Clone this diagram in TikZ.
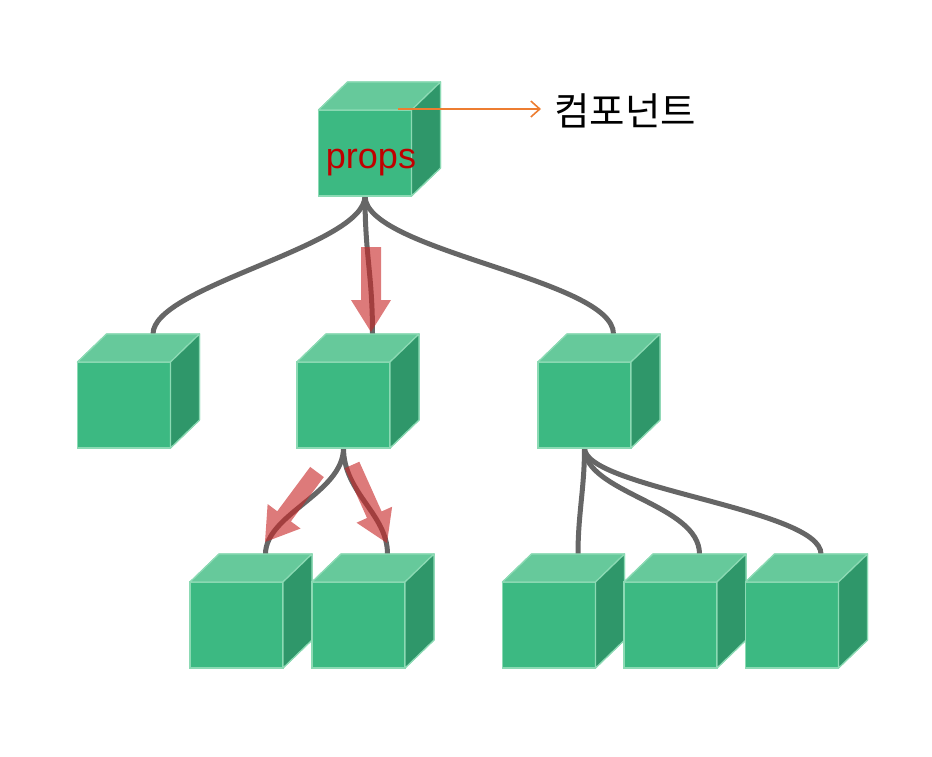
\documentclass[tikz,border=0pt]{standalone}
\usepackage{fontspec}
\setmainfont{Liberation Sans}
\newfontfamily\krfont{Noto Sans CJK KR}
\usetikzlibrary{calc,arrows.meta}
\definecolor{cfront}{RGB}{60,185,130}
\definecolor{ctop}{RGB}{102,201,155}
\definecolor{cside}{RGB}{47,151,106}
\definecolor{cedge}{RGB}{140,218,180}
\definecolor{wire}{RGB}{102,102,102}
\definecolor{propred}{RGB}{192,0,0}
\definecolor{arrred}{RGB}{200,40,40}
\definecolor{orangeln}{RGB}{237,125,49}
\tikzset{
  front/.style={draw=cedge,line width=1.2pt,fill=cfront,minimum width=93pt,minimum height=86pt,inner sep=0pt,outer sep=0pt},
  topface/.style={draw=cedge,line width=1.2pt,fill=ctop,line join=round},
  sideface/.style={draw=cedge,line width=1.2pt,fill=cside,line join=round},
  wireline/.style={draw=wire,line width=5pt},
  redarrow/.style={fill=arrred,fill opacity=0.62},
}
\newcommand\cubefaces[1]{%
  \path[topface] (#1.north west) -- ++(29,-28) -- ++(93,0) -- (#1.north east) -- cycle;
  \path[sideface] (#1.north east) -- ++(29,-28) -- ++(0,86) -- (#1.south east) -- cycle;
  \coordinate (#1t) at ($(#1.north)+(29,-28)$);
}
\newcommand\fatarrow[5]{%
  \coordinate (hb) at ($(#2)!#5pt!(#1)$);
  \fill[redarrow] ($(#1)!#3pt!90:(#2)$) -- ($(hb)!#3pt!90:(#2)$) -- ($(hb)!#4pt!90:(#2)$) -- (#2)
    -- ($(hb)!#4pt!-90:(#2)$) -- ($(hb)!#3pt!-90:(#2)$) -- ($(#1)!#3pt!-90:(#2)$) -- cycle;
}
\begin{document}
\begin{tikzpicture}[x=1pt,y=-1pt]
\useasboundingbox (0,0) rectangle (932,756);
% cube front faces (nodes)
\node[front] (c0) at (365,153) {};
\node[front] (c1) at (124,405) {};
\node[front] (c2) at (343.5,405) {};
\node[front] (c3) at (584.5,405) {};
\node[front] (c4) at (236.5,625) {};
\node[front] (c5) at (358.5,625) {};
\node[front] (c6) at (549,625) {};
\node[front] (c7) at (670.5,625) {};
\node[front] (c8) at (792,625) {};
\foreach \c in {c0,c1,c2,c3,c4,c5,c6,c7,c8}{\cubefaces{\c}}
% wires
\draw[wireline] (c0.south) .. controls +(0,50) and +(0,-48) .. (c1t);
\draw[wireline] (c0.south) .. controls +(0,60) and +(0,-60) .. (c2t);
\draw[wireline] (c0.south) .. controls +(0,55) and +(0,-55) .. (c3t);
\draw[wireline] (c2.south) .. controls +(0,45) and +(0,-40) .. (c4t);
\draw[wireline] (c2.south) .. controls +(0,45) and +(0,-40) .. (c5t);
\draw[wireline] (c3.south) .. controls +(0,40) and +(0,-40) .. (c6t);
\draw[wireline] (c3.south) .. controls +(0,45) and +(0,-50) .. (c7t);
\draw[wireline] (c3.south) .. controls +(0,40) and +(0,-45) .. (c8t);
% redraw cubes over wire ends
\foreach \c in {c0,c1,c2,c3,c4,c5,c6,c7,c8}{
  \path[front] (\c.south west) rectangle (\c.north east);
  \cubefaces{\c}}
% red props arrows
\coordinate (a1s) at (371,247); \coordinate (a1t) at (371,332);
\coordinate (a2s) at (317,472); \coordinate (a2t) at (265,542);
\coordinate (a3s) at (352,465); \coordinate (a3t) at (387,543);
\fatarrow{a1s}{a1t}{10}{20}{32}
\fatarrow{a2s}{a2t}{8.5}{20.5}{32}
\fatarrow{a3s}{a3t}{8}{19.5}{31}
% labels
\node[text=propred,font=\fontsize{36}{40}\selectfont,inner sep=0pt,anchor=base] (props) at (371,168) {props};
\coordinate (c0mark) at (398,109);
\node[font=\krfont\fontsize{38.5}{44}\selectfont,inner sep=0pt,anchor=west] (comp) at (554,111) {컴포넌트};
\draw[orangeln,line width=1.6pt,-{Straight Barb[length=9pt,width=16pt]}] (c0mark) -- ($(comp.west)+(-13,-2)$);
\end{tikzpicture}
\end{document}
